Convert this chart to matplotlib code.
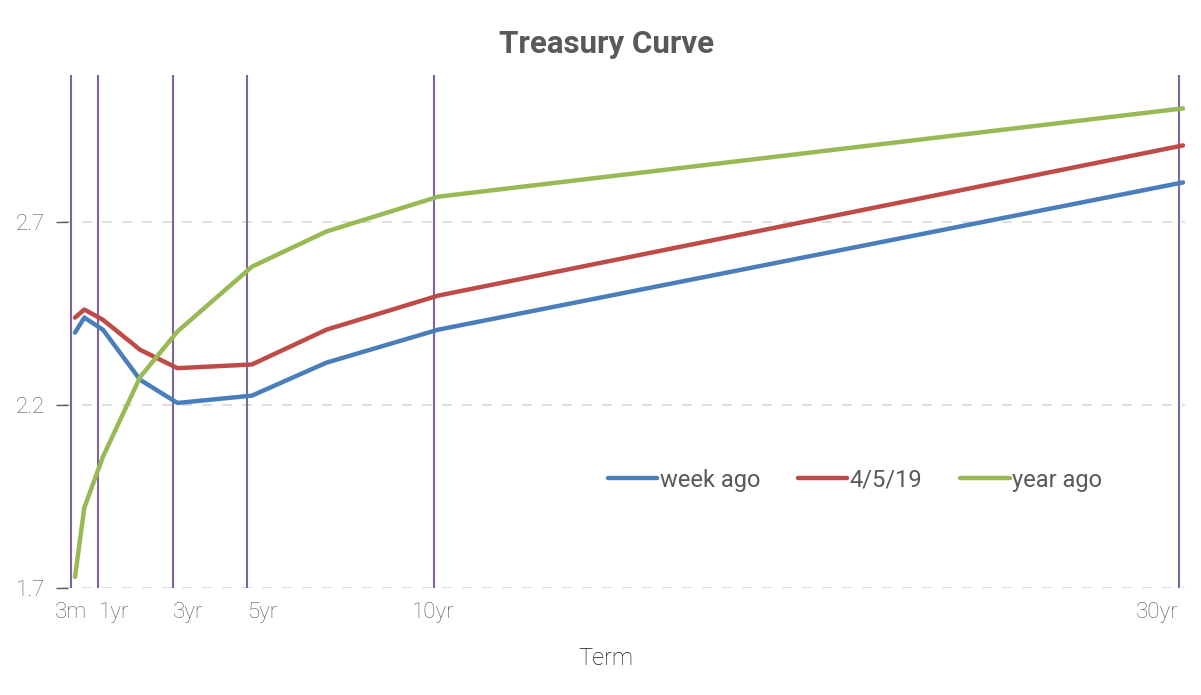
import matplotlib.pyplot as plt

plt.rcParams['font.family'] = ['Roboto', 'DejaVu Sans']

# term in years: 3m, 6m, 1y, 2y, 3y, 5y, 7y, 10y, 30y
term = [0.25, 0.5, 1, 2, 3, 5, 7, 10, 30]
week_ago = [2.397, 2.438, 2.405, 2.268, 2.205, 2.225, 2.315, 2.405, 2.807]
apr_5_19 = [2.438, 2.46, 2.432, 2.35, 2.30, 2.31, 2.405, 2.498, 2.908]
year_ago = [1.73, 1.919, 2.058, 2.276, 2.40, 2.577, 2.673, 2.768, 3.009]

tick_pos = [0.25, 1, 3, 5, 10, 30]
tick_labels = ['3m', '1yr', '3yr', '5yr', '10yr', '30yr']
tick_align = ['center', 'left', 'left', 'left', 'center', 'right']
y_ticks = [1.7, 2.2, 2.7]

fig = plt.figure(figsize=(12.01, 6.95), dpi=100)
ax = fig.add_axes([0.0516, 0.154, 0.935, 0.738])

# vertical markers at the key terms
for t in tick_pos:
    ax.axvline(t - 0.12, color='#8064A2', lw=1.5, zorder=1)

for yv in y_ticks:
    ax.axhline(yv, color='#D9D9D9', lw=1.2, ls=(0, (6, 6)), zorder=0)

ax.plot(term, week_ago, color='#4A7EBB', lw=3.2, solid_capstyle='round', label='week ago', zorder=3)
ax.plot(term, apr_5_19, color='#BE4B48', lw=3.2, solid_capstyle='round', label='4/5/19', zorder=3)
ax.plot(term, year_ago, color='#98B954', lw=3.2, solid_capstyle='round', label='year ago', zorder=3)

ax.set_xlim(-0.1, 30.05)
ax.set_ylim(1.7, 3.1)
ax.set_xticks([t - 0.12 for t in tick_pos])
ax.set_xticklabels(tick_labels)
for lab, ha in zip(ax.get_xticklabels(), tick_align):
    lab.set_ha(ha)
ax.set_yticks(y_ticks)
ax.set_yticklabels(['1.7', '2.2', '2.7'])
ax.tick_params(axis='x', length=0, pad=10, labelsize=16, labelcolor='#595959')
ax.tick_params(axis='y', length=8, direction='inout', color='#595959', width=1,
               pad=8, labelsize=16, labelcolor='#595959')
for lab in ax.get_xticklabels() + ax.get_yticklabels():
    lab.set_fontweight('light')
for s in ax.spines.values():
    s.set_visible(False)

ax.set_xlabel('Term', fontsize=17, color='#1a1a1a', fontweight='light', labelpad=12)
ax.xaxis.set_label_coords(0.484, -0.115)
fig.text(0.505, 0.936, 'Treasury Curve', fontsize=22.5, fontweight='bold',
         color='#595959', ha='center', va='center')

leg = ax.legend(loc='center', bbox_to_anchor=(0.706, 0.21), ncol=3, frameon=False,
                prop={'size': 17}, handlelength=2.1,
                handletextpad=0.1, columnspacing=1.6)
for txt in leg.get_texts():
    txt.set_color('#595959')

fig.savefig('out.png', dpi=100)
